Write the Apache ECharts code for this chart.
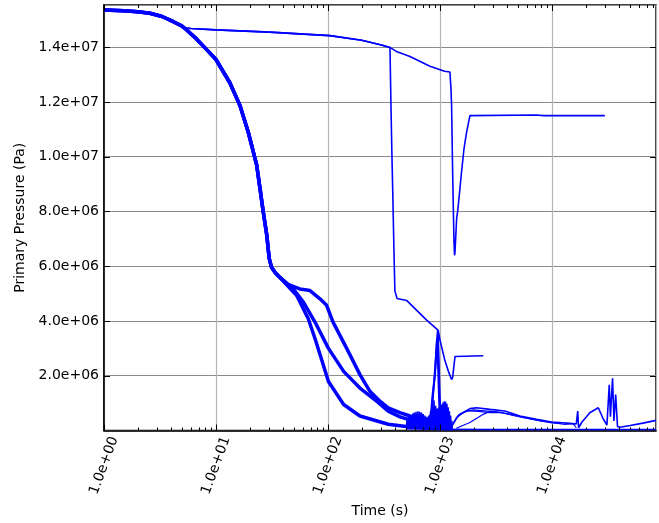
<!DOCTYPE html>
<html>
<head>
<meta charset="utf-8">
<script src="https://cdn.jsdelivr.net/npm/echarts@6/dist/echarts.min.js"></script>
<style>
  html, body { margin: 0; padding: 0; background: #fff; }
  #chart { width: 659px; height: 523px; }
</style>
</head>
<body>
<div id="chart"></div>
<script>
  // time (s) vs primary pressure (Pa)
  var headPts = [[1, 15.36e6], [1.5, 15.33e6], [2, 15.29e6], [2.57, 15.24e6], [3.3, 15.12e6], [4.16, 14.93e6], [4.94, 14.78e6]]
  var flatPts = [[5.3, 14.7e6], [6, 14.68e6], [10, 14.63e6], [30, 14.55e6], [104, 14.42e6], [200, 14.25e6], [300, 14.08e6], [358, 13.99e6]]
  var dropAPts = [[365, 11.95e6], [372, 10.18e6], [380, 8.48e6], [388, 6.67e6], [396, 5.1e6], [414, 4.82e6], [504, 4.75e6],
    [761, 4.03e6], [966, 3.66e6], [1000, 3.31e6], [1100, 2.6e6], [1190, 2.16e6], [1271, 1.86e6], [1300, 1.95e6],
    [1362, 2.7e6], [1410, 2.72e6], [2437, 2.73e6]]
  var dropBPts = [[414, 13.83e6], [540, 13.66e6], [814, 13.3e6], [1100, 13.12e6], [1228, 13.09e6], [1254, 12.5e6],
    [1271, 11.86e6], [1298, 9.45e6], [1334, 6.92e6], [1350, 6.4e6], [1362, 6.5e6], [1410, 7.76e6], [1440, 8.0e6],
    [1560, 9.45e6], [1640, 10.29e6], [1730, 10.9e6], [1853, 11.5e6], [1900, 11.53e6], [7300, 11.52e6],
    [8370, 11.5e6], [29700, 11.5e6]]
  var fallPts = [[5.3, 14.68e6], [6.5, 14.35e6], [8.26, 13.91e6], [10, 13.55e6], [13.3, 12.7e6], [16.4, 11.86e6],
    [19.4, 10.9e6], [23.1, 9.69e6], [24.7, 8.85e6], [26.4, 8.0e6], [28.5, 7.1e6], [29.3, 6.6e6], [30, 6.25e6],
    [31.4, 5.95e6], [34, 5.75e6], [37.3, 5.59e6]]
  var bundleX = [[42.8, 5.35e6], [56, 5.17e6], [69.1, 5.11e6], [84.8, 4.81e6], [97.3, 4.57e6], [111, 3.96e6],
    [147, 3.0e6], [193, 2.04e6], [237, 1.43e6], [291, 1.07e6], [345, 0.83e6], [439, 0.65e6], [540, 0.53e6], [650, 0.35e6]]
  var bundleY = [[49.1, 5.17e6], [60.3, 4.69e6], [76.6, 3.96e6], [101, 3.0e6], [138, 2.16e6], [193, 1.55e6],
    [272, 1.07e6], [345, 0.71e6], [440, 0.5e6], [578, 0.35e6], [700, 0.25e6]]
  var bundleZ = [[52.6, 4.93e6], [66.7, 4.08e6], [76.6, 3.36e6], [90.7, 2.4e6], [101, 1.79e6], [138, 0.95e6],
    [193, 0.53e6], [345, 0.23e6], [540, 0.13e6], [800, 0.08e6], [1300, 0.06e6]]
  var blobPts = [[500, 0.1e6], [510, 0.45e6], [520, 0.08e6], [530, 0.5e6], [540, 0.1e6], [550, 0.55e6], [560, 0.08e6],
    [570, 0.62e6], [580, 0.1e6], [590, 0.66e6], [600, 0.08e6], [612, 0.68e6], [624, 0.1e6], [636, 0.7e6],
    [648, 0.08e6], [660, 0.68e6], [672, 0.1e6], [684, 0.66e6], [696, 0.08e6], [708, 0.6e6], [720, 0.1e6],
    [735, 0.55e6], [750, 0.08e6], [765, 0.5e6], [780, 0.1e6], [795, 0.55e6], [810, 0.08e6], [825, 0.7e6],
    [840, 0.1e6], [855, 0.9e6], [870, 0.1e6], [885, 1.1e6], [900, 0.1e6], [915, 0.9e6], [930, 0.1e6],
    [945, 0.8e6], [960, 0.1e6], [975, 0.85e6], [990, 0.1e6], [1005, 0.9e6], [1020, 0.1e6], [1035, 0.95e6],
    [1050, 0.1e6], [1065, 1.02e6], [1080, 0.1e6], [1095, 1.07e6], [1110, 0.1e6], [1125, 1.05e6], [1140, 0.1e6],
    [1155, 0.98e6], [1170, 0.1e6], [1185, 0.85e6], [1200, 0.1e6], [1215, 0.7e6], [1230, 0.1e6], [1245, 0.55e6],
    [1260, 0.1e6], [1275, 0.35e6], [1290, 0.1e6]]
  var spike1 = [[780, 0.2e6], [834, 0.65e6], [860, 1.3e6], [902, 2.0e6], [935, 3.2e6], [958, 3.66e6], [975, 2.6e6],
    [990, 1.6e6], [1005, 0.8e6], [1020, 0.3e6]]
  var spike2 = [[800, 0.2e6], [845, 0.7e6], [880, 1.6e6], [915, 2.5e6], [945, 3.3e6], [965, 2.2e6], [985, 1.0e6], [1010, 0.2e6]]
  var tail1 = [[1271, 0.15e6], [1410, 0.47e6], [1600, 0.65e6], [1853, 0.8e6], [2120, 0.83e6], [2795, 0.77e6],
    [3800, 0.71e6], [5180, 0.53e6], [7300, 0.41e6], [9940, 0.31e6], [14500, 0.26e6], [16500, 0.24e6],
    [17000, 0.71e6], [17300, 0.1e6], [18500, 0.3e6], [21800, 0.65e6], [25900, 0.83e6], [26500, 0.75e6],
    [28800, 0.41e6], [31000, 0.2e6], [32500, 1.67e6], [33300, 0.5e6], [34800, 1.91e6], [35800, 0.35e6],
    [37100, 1.31e6], [38500, 0.15e6], [40500, 0.12e6], [50000, 0.18e6], [65000, 0.27e6], [85000, 0.37e6]]
  var tail2 = [[1300, 0.2e6], [1450, 0.55e6], [1700, 0.7e6], [2000, 0.75e6], [2500, 0.72e6], [3200, 0.68e6],
    [4200, 0.6e6], [5500, 0.48e6], [7300, 0.38e6], [10000, 0.28e6], [12000, 0.25e6]]
  var tail3 = [[1330, 0.3e6], [1500, 0.6e6], [1800, 0.72e6], [2200, 0.7e6], [2800, 0.65e6], [3500, 0.66e6],
    [4500, 0.55e6], [6000, 0.45e6], [8000, 0.35e6], [10000, 0.3e6], [13000, 0.22e6], [15500, 0.25e6], [16500, 0.1e6]]
  var tail4 = [[1400, 0.08e6], [1853, 0.29e6], [2437, 0.59e6], [2800, 0.7e6], [3300, 0.66e6]]
  var floorPts = [[500, 0.06e6], [1000, 0.05e6], [3000, 0.04e6], [10000, 0.04e6], [30000, 0.04e6], [85000, 0.04e6]]

  var majorX = [1, 10, 100, 1000, 10000]
  var minorX = [2, 3, 4, 5, 6, 7, 8, 9, 20, 30, 40, 50, 60, 70, 80, 90, 200, 300, 400, 500, 600, 700, 800, 900,
    2000, 3000, 4000, 5000, 6000, 7000, 8000, 9000, 20000, 30000, 40000, 50000, 60000, 70000, 80000]
  var yTicks = [2e6, 4e6, 6e6, 8e6, 10e6, 12e6, 14e6]

  var X_MIN = 1
  var X_MAX = 85000
  var Y_MIN = 0
  var Y_MAX = 15.54e6

  function pad2 (n) { return (n < 10 ? '0' : '') + n }
  function sci (v) {
    var e = Math.floor(Math.log10(v) + 1e-9)
    var m = v / Math.pow(10, e)
    return m.toFixed(1) + 'e' + (e < 0 ? '-' : '+') + pad2(Math.abs(e))
  }
  function isPow10 (v) {
    var e = Math.round(Math.log10(v))
    return Math.abs(v - Math.pow(10, e)) < 1e-6 * v
  }

  var font = 'DejaVu Sans'
  var chart = echarts.init(document.getElementById('chart'))

  function line (data, w) {
    return {
      type: 'line', data: data, showSymbol: false, symbol: 'none',
      lineStyle: { color: '#0000ff', width: w }, itemStyle: { color: '#0000ff' }, animation: false
    }
  }

  function tickLine (x1, y1, x2, y2) {
    return { type: 'line', shape: { x1: x1, y1: y1, x2: x2, y2: y2 }, style: { stroke: '#000', lineWidth: 1 } }
  }

  // inside ticks on bottom/top edges for the time axis
  function xTicks (values, len) {
    return {
      type: 'custom', silent: true, clip: false, z: 5,
      data: values.map(function (v) { return [v, Y_MIN] }),
      renderItem: function (params, api) {
        var v = api.value(0)
        var b = api.coord([v, Y_MIN])
        var t = api.coord([v, Y_MAX])
        var x = Math.round(b[0]) + 0.5
        return { type: 'group', children: [tickLine(x, b[1], x, b[1] - len), tickLine(x, t[1], x, t[1] + len)] }
      }
    }
  }

  // inside ticks on left/right edges for the pressure axis
  function yTickMarks (values, len) {
    return {
      type: 'custom', silent: true, clip: false, z: 5,
      data: values.map(function (v) { return [X_MIN, v] }),
      renderItem: function (params, api) {
        var v = api.value(1)
        var l = api.coord([X_MIN, v])
        var r = api.coord([X_MAX, v])
        var y = Math.round(l[1]) + 0.5
        return { type: 'group', children: [tickLine(l[0], y, l[0] + len, y), tickLine(r[0], y, r[0] - len, y)] }
      }
    }
  }

  chart.setOption({
    animation: false,
    backgroundColor: '#fff',
    grid: { left: 104, right: 3, top: 5, bottom: 88, show: true, borderColor: '#000', borderWidth: 1.5 },
    xAxis: {
      type: 'log', logBase: 10, min: X_MIN, max: X_MAX,
      name: 'Time (s)', nameLocation: 'middle', nameGap: 72,
      nameTextStyle: { fontFamily: font, fontSize: 14, color: '#000' },
      axisLine: { show: true, onZero: false, lineStyle: { color: '#000', width: 1.5 } },
      axisTick: { show: false },
      splitLine: { show: true, lineStyle: { color: '#b4b4b4', width: 1.2 } },
      axisLabel: {
        show: true, rotate: 70, align: 'center', verticalAlign: 'middle', margin: 35,
        fontFamily: font, fontSize: 14, color: '#000',
        formatter: function (v) { return isPow10(v) ? sci(v) : '' }
      }
    },
    yAxis: {
      type: 'value', min: Y_MIN, max: Y_MAX, interval: 2e6,
      name: 'Primary Pressure (Pa)', nameLocation: 'middle', nameGap: 72,
      nameTextStyle: { fontFamily: font, fontSize: 14, color: '#000' },
      axisLine: { show: true, onZero: false, lineStyle: { color: '#000', width: 1.5 } },
      axisTick: { show: false },
      splitLine: { show: true, lineStyle: { color: '#8c8c8c', width: 1.2 } },
      axisLabel: {
        show: true, margin: 5,
        fontFamily: font, fontSize: 14, color: '#000',
        formatter: function (v) { return (v > 0 && yTicks.indexOf(v) >= 0) ? sci(v) : '' }
      }
    },
    series: [
      line(headPts.concat(flatPts, dropAPts), 1.6),
      line(headPts.concat(flatPts, dropBPts), 1.6),
      line(headPts.concat(fallPts, bundleX), 3.5),
      line(headPts.concat(fallPts, bundleY), 3.5),
      line(headPts.concat(fallPts, bundleZ), 3.5),
      line(blobPts, 1.5),
      line(spike1, 2),
      line(spike2, 2),
      line(tail1, 1.6),
      line(tail2, 1.2),
      line(tail3, 1.2),
      line(tail4, 1.2),
      line(floorPts, 1.5),
      xTicks(majorX, 6),
      xTicks(minorX, 3),
      yTickMarks(yTicks, 6)
    ]
  })
</script>
</body>
</html>
